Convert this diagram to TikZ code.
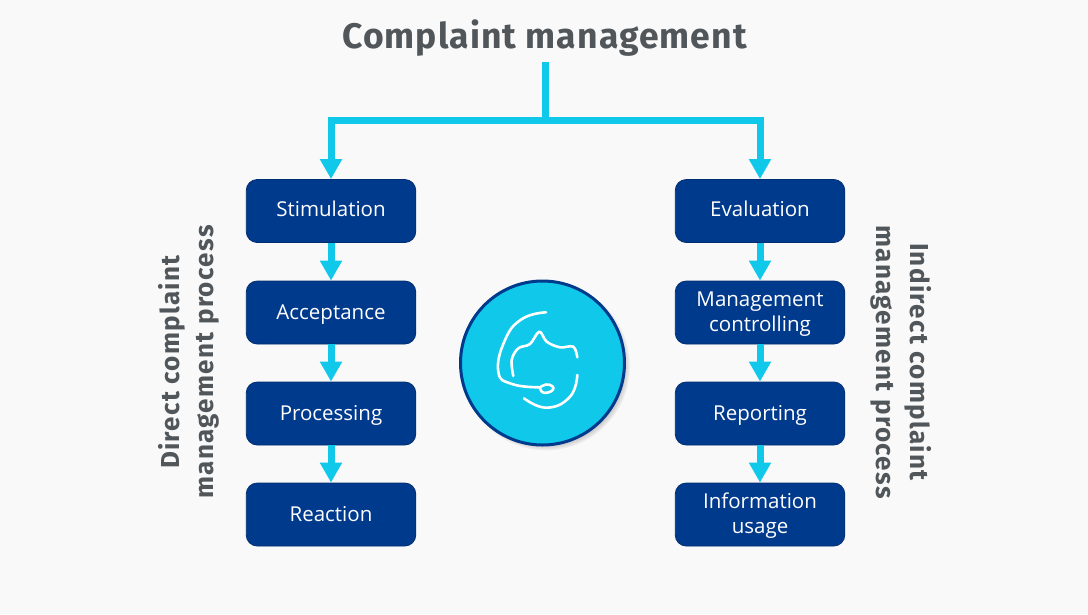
\documentclass[tikz,border=0pt]{standalone}
\usepackage{fontspec}
\setmainfont{Open Sans}
\newfontfamily\headfont[LetterSpace=3.0]{Fira Sans}
\newfontfamily\labelfont[LetterSpace=5.0]{Fira Sans}
\usepackage{xcolor}
\usetikzlibrary{arrows.meta,positioning,shadows}
\tikzset{>=stealth}
\definecolor{bgcol}{HTML}{F9F9F9}
\definecolor{linkcol}{HTML}{10C8E9}
\definecolor{boxcol}{HTML}{003A8C}
\definecolor{headcol}{HTML}{50565A}
\newcommand{\stepstrut}{\rule[-7.5pt]{0pt}{28pt}}
\tikzset{
  stepbox/.style={draw=boxcol!80!black, line width=0.8pt, fill=boxcol, rounded corners=11pt, minimum width=169.5pt, minimum height=63pt, inner sep=0pt, text=white, align=center, font=\fontsize{20.5}{25}\selectfont},
  link/.style={draw=linkcol, line width=7pt},
  linkarrow/.style={link, -{Triangle[width=21pt,length=20pt]}},
  sidelabel/.style={text=headcol, align=center, font=\labelfont\bfseries\fontsize{26}{34}\selectfont},
  faceline/.style={draw=white, line width=2.6pt, line cap=round, line join=round}
}
\begin{document}
\begin{tikzpicture}[x=1pt,y=-1pt]
\fill[bgcol] (0,0) rectangle (1088,614);
\useasboundingbox (0,0) rectangle (1088,614);
\node[text=headcol, font=\headfont\bfseries\fontsize{35.5}{40}\selectfont] (title) at (544.5,38) {Complaint management};
%%%%%%%%%%%%
\node[stepbox] (stimulation) at (331,211) {\strut Stimulation};
\node[stepbox] (acceptance) at (331,312.5) {\stepstrut Acceptance};
\node[stepbox] (processing) at (331,413.5) {\stepstrut Processing};
\node[stepbox] (reaction) at (331,514.5) {\stepstrut Reaction};
\node[stepbox] (evaluation) at (760,211) {\strut Evaluation};
\node[stepbox] (controlling) at (760,312.5) {\stepstrut Management\\\strut controlling};
\node[stepbox] (reporting) at (760,413.5) {\stepstrut Reporting};
\node[stepbox] (usage) at (760,514.5) {\stepstrut Information\\\strut usage};
%%%%%%%%%%%%
\coordinate (top) at (545.5,62);
\coordinate (fork) at (545.5,120.5);
\draw[link] (top) -- (fork);
\draw[linkarrow] (fork) -| (stimulation.north);
\draw[linkarrow] (fork) -| (evaluation.north);
\draw[linkarrow] (stimulation) -- (acceptance);
\draw[linkarrow] (acceptance) -- (processing);
\draw[linkarrow] (processing) -- (reaction);
\draw[linkarrow] (evaluation) -- (controlling);
\draw[linkarrow] (controlling) -- (reporting);
\draw[linkarrow] (reporting) -- (usage);
%%%%%%%%%%%%
\node[sidelabel, rotate=90] (direct) at (188.5,362) {Direct complaint\\management process};
\node[sidelabel, rotate=-90] (indirect) at (901,362) {Indirect complaint\\management process};
%%%%%%%%%%%%
\node[circle, draw=boxcol, line width=3pt, fill=linkcol, minimum size=164pt, inner sep=0pt, circular drop shadow={shadow xshift=3pt, shadow yshift=-3pt, shadow scale=1.03, opacity=0.8}] (face) at (542.5,363) {};
\draw[faceline] plot[smooth, tension=0.8] coordinates {(546,312.3) (522,319) (505,340) (498.3,371.7) (512,384) (540,387.3)};
\draw[faceline] plot[smooth, tension=0.8] coordinates {(540,387.3) (546,384.5) (552,386) (553,389.5) (548,392.5) (542,392) (540,387.3)};
\draw[faceline] plot[smooth, tension=0.6] coordinates {(513.3,376) (511.7,360) (518.3,348.3) (530,344) (539.3,331.7) (546.7,341.7) (560,347.3) (573.3,346.7) (577.3,357.3)};
\draw[faceline] plot[smooth, tension=0.8] coordinates {(577.3,375) (570,396.7) (546.7,407.7) (524,398.3)};
\end{tikzpicture}
\end{document}
